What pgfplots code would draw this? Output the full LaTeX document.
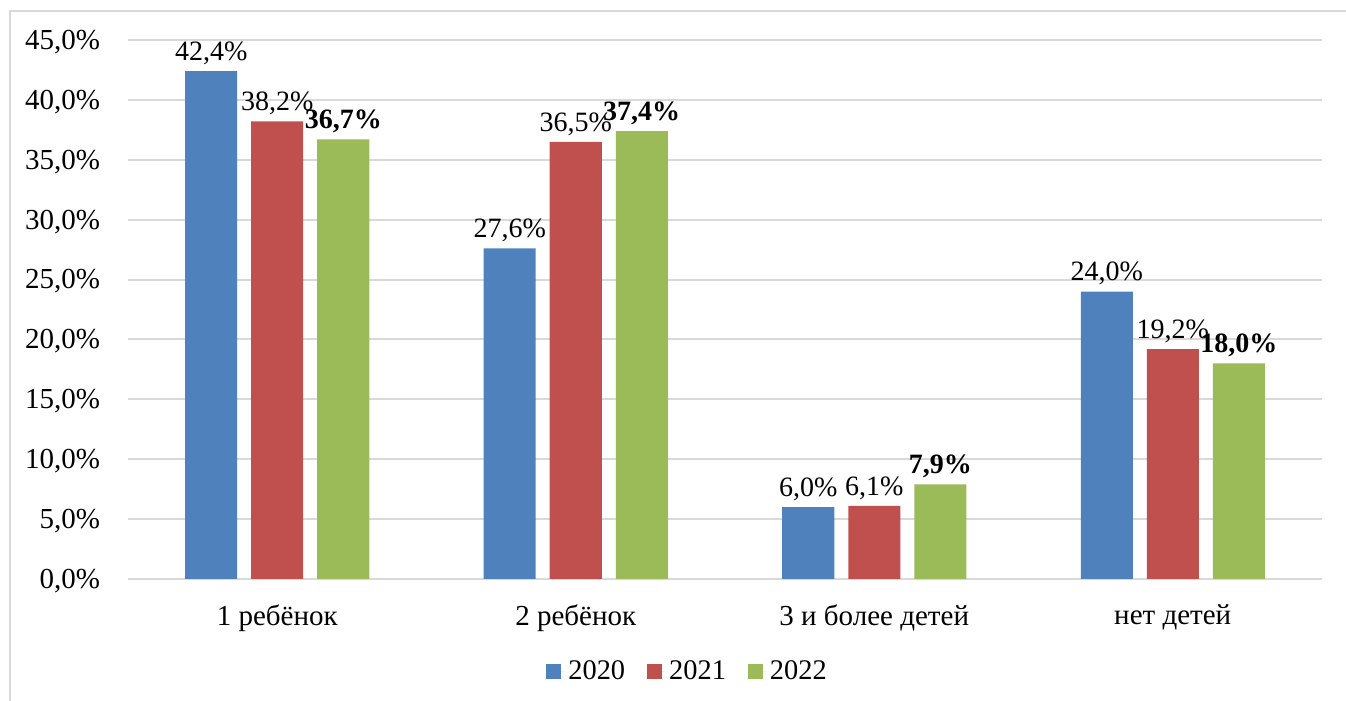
\documentclass[border=0pt]{standalone}
\usepackage{fontspec}
\setmainfont{Liberation Serif}
\usepackage{pgfplots}
\pgfplotsset{compat=1.18}
\definecolor{cblue}{HTML}{4F81BD}
\definecolor{cred}{HTML}{C0504D}
\definecolor{cgreen}{HTML}{9BBB59}
\definecolor{gridc}{HTML}{D9D9D9}
\begin{document}
\begin{tikzpicture}
\begin{axis}[
  at={(64pt,61pt)}, anchor=south west,
  scale only axis, width=597pt, height=269.5pt,
  ybar=7pt, bar width=26pt,
  xmin=-0.5, xmax=3.5, ymin=0, ymax=45,
  xtick={0,1,2,3},
  xticklabels={1 ребёнок, 2 ребёнок, 3 и более детей, нет детей},
  ytick={0,5,...,45},
  /pgf/number format/assume math mode=true,
  yticklabel={\pgfmathprintnumber[fixed,fixed zerofill,precision=1,use comma]{\tick}\%},
  tick label style={font=\fontsize{14.5}{17}\selectfont},
  y tick label style={xshift=-10.5pt, yshift=-1pt},
  x tick label style={yshift=-9.5pt},
  major tick length=0pt,
  ymajorgrids, grid style={gridc, line width=1pt},
  axis line style={draw=none},
  legend style={at={(0.4695,-0.1725)}, anchor=center, draw=none, legend columns=3,
    font=\fontsize{14.2}{16}\selectfont, /tikz/every even column/.append style={column sep=9pt},
    /tikz/every odd column/.append style={column sep=0pt}},
  nodes near coords,
  nodes near coords style={font=\fontsize{14}{16}\selectfont, inner sep=1pt, yshift=2pt},
  point meta=explicit symbolic,
]
\draw[gridc, line width=1pt] (rel axis cs:0,0) -- (rel axis cs:1,0);
\addplot[fill=cblue, draw=none, legend image code/.code={\fill[cblue] (0pt,-3.75pt) rectangle (7.5pt,3.75pt); \path (0pt,0pt) -- (9pt,0pt);}] coordinates {(0,42.4) [42,4\%] (1,27.6) [27,6\%] (2,6.0) [6,0\%] (3,24.0) [24,0\%]};
\addplot[fill=cred, draw=none, legend image code/.code={\fill[cred] (0pt,-3.75pt) rectangle (7.5pt,3.75pt); \path (0pt,0pt) -- (9pt,0pt);}] coordinates {(0,38.2) [38,2\%] (1,36.5) [36,5\%] (2,6.1) [6,1\%] (3,19.2) [19,2\%]};
\addplot[fill=cgreen, draw=none, legend image code/.code={\fill[cgreen] (0pt,-3.75pt) rectangle (7.5pt,3.75pt); \path (0pt,0pt) -- (9pt,0pt);}, nodes near coords style={font=\fontsize{14}{16}\selectfont\bfseries}] coordinates {(0,36.7) [36,7\%] (1,37.4) [37,4\%] (2,7.9) [7,9\%] (3,18.0) [18,0\%]};
\legend{2020, 2021, 2022}
\end{axis}
\draw[gridc, line width=1pt] (5pt,0pt) -- (5pt,345pt) -- (673pt,345pt);
\pgfresetboundingbox
\useasboundingbox (0,0) rectangle (673pt,350.5pt);
\end{tikzpicture}
\end{document}
